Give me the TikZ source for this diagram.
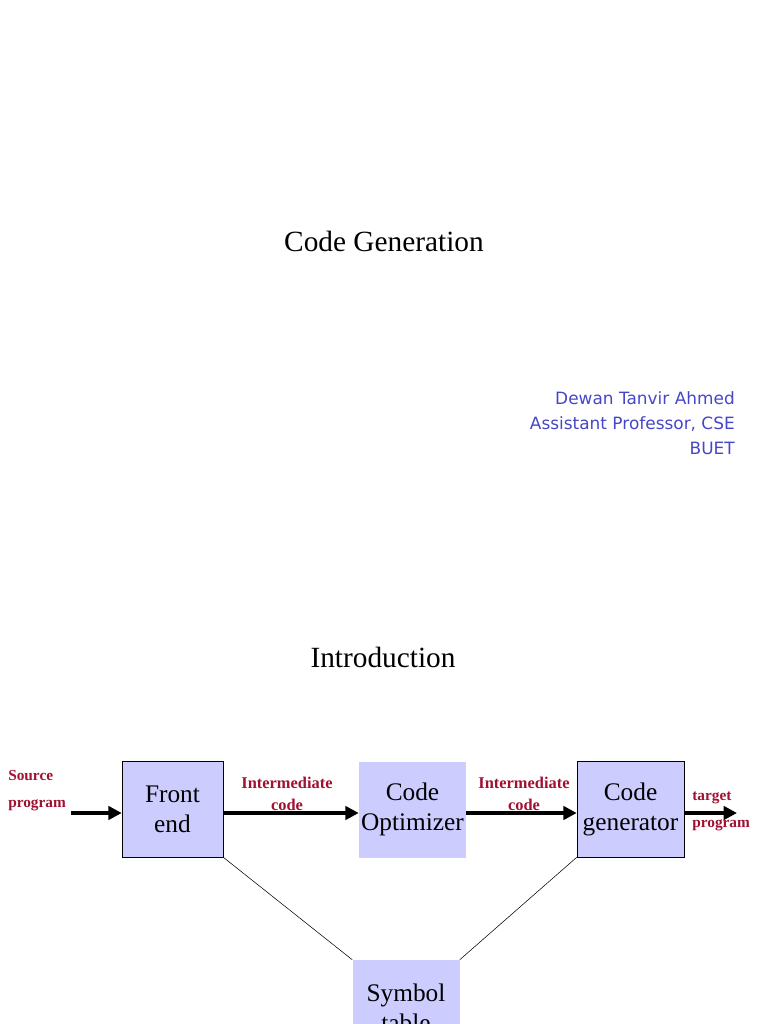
\documentclass[tikz,border=0pt]{standalone}
\usepackage{fontspec}
\setmainfont{Liberation Serif}
\newfontfamily\authorfont{DejaVu Sans}
\usetikzlibrary{arrows.meta}
\definecolor{boxfill}{RGB}{204,204,255}
\definecolor{labelred}{RGB}{160,16,48}
\definecolor{authorblue}{RGB}{70,70,200}
\tikzset{
  stage/.style={fill=boxfill, minimum width=80.25pt, minimum height=72pt, inner sep=0pt,
    align=center, font=\fontsize{19}{22.5}\selectfont},
  flowlabel/.style={text=labelred, inner sep=0pt, font=\bfseries\fontsize{12.3}{16.5}\selectfont},
  sidelabel/.style={flowlabel, anchor=west, align=left, font=\bfseries\fontsize{11.5}{20.25}\selectfont},
  flow/.style={line width=3pt, -{Triangle[length=10pt,width=10pt]}},
  heading/.style={font=\fontsize{22}{26}\selectfont}
}
\begin{document}
\begin{tikzpicture}[x=0.75pt,y=-0.75pt]
  \useasboundingbox (0,0) rectangle (768,1024);
  \node[heading] (title) at (384,241) {Code Generation};
  \node[anchor=east, align=right, inner sep=0pt, text=authorblue,
    font=\authorfont\fontsize{12.7}{18.75}\selectfont] (author) at (735,423)
    {Dewan Tanvir Ahmed\\Assistant Professor, CSE\\BUET};
  \node[heading] (intro) at (383,657) {Introduction};

  \node[stage, draw, minimum width=75.75pt] (front) at (172.5,809) {Front\\end};
  \node[stage] (opt) at (412.5,809.5) {Code\\Optimizer};
  \node[stage, draw] (gen) at (630.5,809) {Code\\generator};
  \node[stage] (symtab) at (406,1008) {Symbol\\table};

  \coordinate (src) at (71,813);
  \coordinate (out) at (737,813);
  \draw[flow] (src) -- (front.west |- src);
  \draw[flow] (front.east |- src) -- (opt.west |- src);
  \draw[flow] (opt.east |- src) -- (gen.west |- src);
  \draw[flow] (gen.east |- out) -- (out);
  \draw[thin] (front.south east) -- (symtab.north west);
  \draw[thin] (gen.south west) -- (symtab.north east);

  \node[sidelabel] (srclabel) at (8,791) {Source\\program};
  \node[flowlabel, align=center] (mid1) at (287,794) {Intermediate\\code};
  \node[flowlabel, align=center] (mid2) at (524,794) {Intermediate\\code};
  \node[sidelabel] (tgtlabel) at (692,811) {target\\program};
\end{tikzpicture}
\end{document}
